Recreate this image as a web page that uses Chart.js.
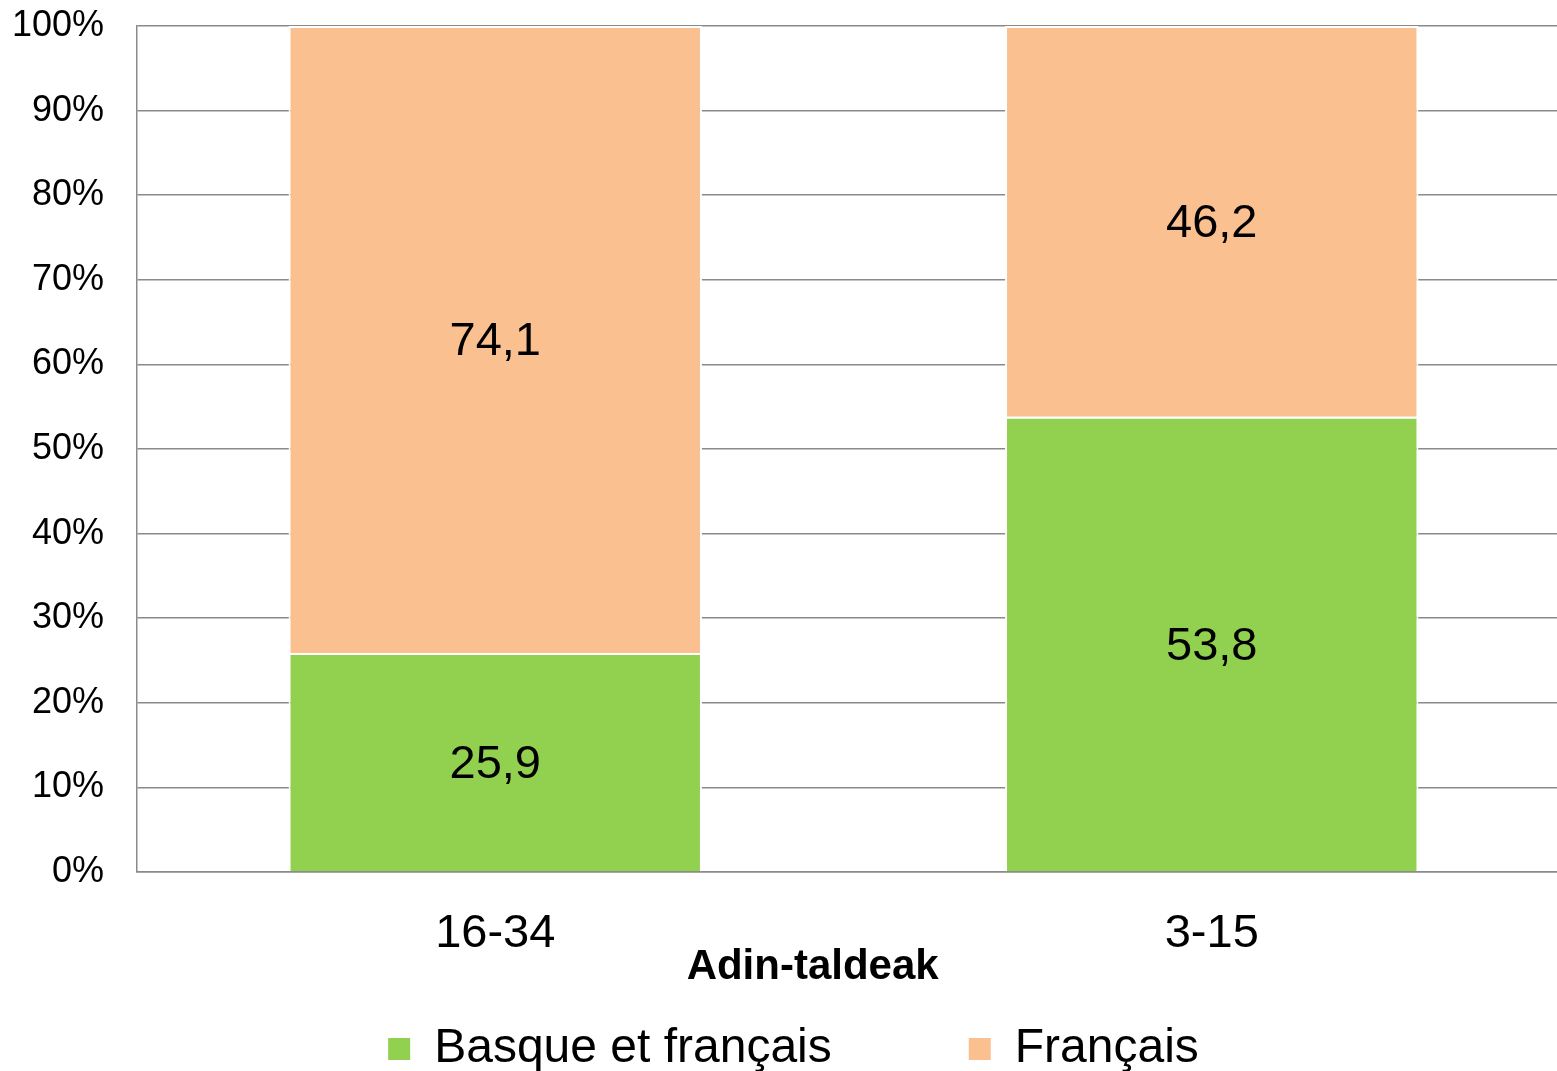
<!DOCTYPE html>
<html>
<head>
<meta charset="utf-8">
<script src="https://cdn.jsdelivr.net/npm/chart.js@4.4.1/dist/chart.umd.min.js"></script>
<style>
  html, body { margin: 0; padding: 0; background: #fff; overflow: hidden; }
  /* plot runs a little past the right edge, like the original crop */
  #wrap { width: 1557px; height: 1071px; overflow: hidden; }
</style>
</head>
<body>
<div id="wrap"><canvas id="chart" width="1570" height="1071"></canvas></div>
<script>
const categories = ['16-34', '3-15'];
const basqueFrench = [25.9, 53.8];
const french = [74.1, 46.2];
const seriesNames = ['Basque et français', 'Français'];
const yTicks = [0, 10, 20, 30, 40, 50, 60, 70, 80, 90, 100];
const axisTitle = 'Adin-taldeak';

const FONT = '"Liberation Sans", Arial, sans-serif';

// draws the value in the middle of every bar segment
const valueLabels = {
  id: 'valueLabels',
  afterDatasetsDraw(chart) {
    const ctx = chart.ctx;
    ctx.save();
    ctx.font = '47px ' + FONT;
    ctx.fillStyle = '#000';
    ctx.textAlign = 'center';
    ctx.textBaseline = 'middle';
    chart.data.datasets.forEach((ds, i) => {
      chart.getDatasetMeta(i).data.forEach((bar, j) => {
        const p = bar.getProps(['x', 'y', 'base'], true);
        const txt = ds.data[j].toFixed(1).replace('.', ',');
        ctx.fillText(txt, p.x, (p.y + p.base) / 2 + 3);
      });
    });
    ctx.restore();
  }
};

new Chart(document.getElementById('chart'), {
  type: 'bar',
  data: {
    labels: categories,
    datasets: [{
      label: seriesNames[0],
      data: basqueFrench,
      backgroundColor: '#92D050',
      borderColor: '#ffffff',
      borderWidth: 2
    }, {
      label: seriesNames[1],
      data: french,
      backgroundColor: '#FAC090',
      borderColor: '#ffffff',
      borderWidth: 2
    }]
  },
  options: {
    responsive: false,
    animation: false,
    layout: { padding: { top: 26, right: 0, left: 0, bottom: -12 } },
    datasets: { bar: { categoryPercentage: 1, barPercentage: 0.577 } },
    plugins: {
      tooltip: { enabled: false },
      legend: {
        position: 'bottom',
        fullSize: false,
        labels: {
          color: '#000',
          font: { family: FONT, size: 48 },
          boxWidth: 22,
          boxHeight: 22,
          padding: 17,
          generateLabels(chart) {
            const items = Chart.defaults.plugins.legend.labels.generateLabels(chart);
            items[0].text = items[0].text + '\u00a0'.repeat(9);
            items[1].text = items[1].text + '\u00a0'.repeat(9);
            items.forEach(it => { it.lineWidth = 0; });
            return items;
          }
        }
      }
    },
    scales: {
      x: {
        stacked: true,
        grid: { display: false, drawTicks: false },
        border: { display: true, color: '#8a8a8a', width: 1.5 },
        ticks: { color: '#000', font: { family: FONT, size: 47 }, padding: 34 },
        title: {
          display: true,
          text: axisTitle + '\u00a0'.repeat(7),
          color: '#000',
          font: { family: FONT, size: 42, weight: 'bold' },
          padding: { top: 0, bottom: 15 }
        },
        afterFit(scale) {
          scale.height = 136;
          scale.paddingLeft = 0;
          scale.paddingRight = 0;
        }
      },
      y: {
        stacked: true,
        min: 0,
        max: 100,
        afterBuildTicks(scale) { scale.ticks = yTicks.map(v => ({ value: v })); },
        grid: { color: '#8a8a8a', lineWidth: 1.5, drawTicks: false },
        border: { display: true, color: '#8a8a8a', width: 1.5 },
        ticks: {
          color: '#000',
          font: { family: FONT, size: 36 },
          padding: 33,
          callback: v => v + '%'
        },
        afterFit(scale) {
          scale.width = 137;
          scale.paddingTop = 0;
          scale.paddingBottom = 0;
        }
      }
    }
  },
  plugins: [valueLabels]
});
</script>
</body>
</html>
